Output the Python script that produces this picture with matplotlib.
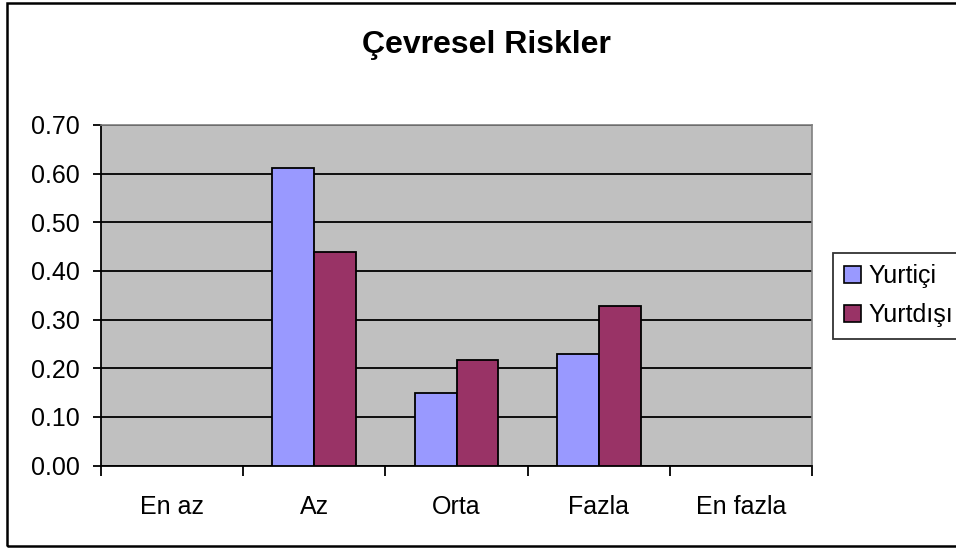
import matplotlib.pyplot as plt
import numpy as np
from matplotlib.patches import Rectangle, Patch

plt.rcParams['font.family'] = ['Liberation Sans', 'DejaVu Sans']

categories = ['En az', 'Az', 'Orta', 'Fazla', 'En fazla']
yurtici = [0.0, 0.611, 0.150, 0.229, 0.0]
yurtdisi = [0.0, 0.438, 0.217, 0.328, 0.0]
series_names = ['Yurtiçi', 'Yurtdışı']
colors = ['#9999FF', '#993366']

fig = plt.figure(figsize=(9.56, 5.49), dpi=100)
ax = fig.add_axes([101 / 956, 1 - 465.5 / 549, (812 - 101) / 956, (465.5 - 125) / 549])

x = np.arange(len(categories))
w = 0.295
b1 = ax.bar(x - w / 2, yurtici, w, color=colors[0], edgecolor='black', linewidth=1.3, zorder=3)
b2 = ax.bar(x + w / 2, yurtdisi, w, color=colors[1], edgecolor='black', linewidth=1.3, zorder=3)
# hide zero-height bars
for bars, vals in ((b1, yurtici), (b2, yurtdisi)):
    for r, v in zip(bars, vals):
        if v == 0:
            r.set_visible(False)

ax.set_facecolor('#C0C0C0')
ax.set_xlim(-0.5, len(categories) - 0.5)
ax.set_ylim(0, 0.7)
ax.set_yticks(np.arange(0, 0.71, 0.1))
ax.set_yticklabels([f'{v:.2f}' for v in np.arange(0, 0.71, 0.1)])
ax.yaxis.grid(True, color='black', linewidth=1.3, zorder=1)
ax.set_axisbelow(True)

ax.set_xticks(np.arange(-0.5, len(categories), 1.0))
ax.set_xticklabels([])
ax.set_xticks(x, minor=True)
ax.set_xticklabels(categories, minor=True)
ax.tick_params(axis='x', which='minor', length=0, pad=21, labelsize=18)
ax.tick_params(axis='x', which='major', length=7, width=1.3, direction='out')
ax.tick_params(axis='y', length=6, width=1.3, direction='out', pad=9, labelsize=18)

for side in ('top', 'right'):
    ax.spines[side].set_color('#808080')
    ax.spines[side].set_linewidth(1.2)
for side in ('left', 'bottom'):
    ax.spines[side].set_color('black')
    ax.spines[side].set_linewidth(1.3)

fig.text(486 / 956, 1 - 45 / 549, 'Çevresel Riskler', ha='center', va='center',
         fontsize=23, fontweight='bold')

handles = [Patch(facecolor=c, edgecolor='black', linewidth=1.2) for c in colors]
leg = fig.legend(handles, series_names, loc='upper left', bbox_to_anchor=(833 / 956, 1 - 253 / 549),
                 fontsize=18, frameon=True, fancybox=False, edgecolor='black',
                 handlelength=0.65, handleheight=0.65, handletextpad=0.3,
                 borderpad=0.45, labelspacing=0.6, borderaxespad=0)
leg.get_frame().set_linewidth(1.3)

fig.patches.append(Rectangle((7 / 956, 3 / 549), 1.0, 543 / 549, transform=fig.transFigure,
                             fill=False, edgecolor='black', linewidth=1.8))

fig.savefig('out.png', dpi=100)
